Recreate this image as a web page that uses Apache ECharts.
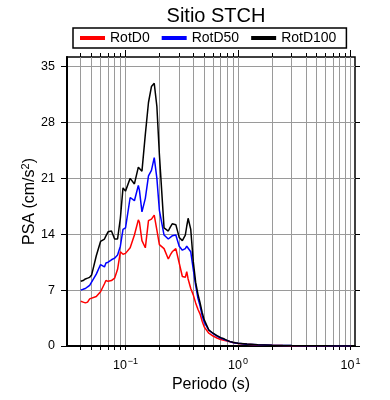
<!DOCTYPE html>
<html>
<head>
<meta charset="utf-8">
<script src="https://cdn.jsdelivr.net/npm/echarts@6/dist/echarts.min.js"></script>
<style>
  html, body { margin: 0; padding: 0; background: #fff; }
  #d_chart { width: 390px; height: 400px; }
</style>
</head>
<body>
<div id="d_chart"></div>
<script>
// periodos (s)
var periods = [0.04, 0.042, 0.044, 0.046, 0.048, 0.05, 0.055, 0.06, 0.065, 0.067, 0.07, 0.075, 0.08, 0.085, 0.09, 0.095,
  0.1, 0.11, 0.12, 0.13, 0.133, 0.14, 0.15, 0.16, 0.17, 0.18, 0.19, 0.2, 0.22, 0.24, 0.25, 0.26, 0.28, 0.3,
  0.32, 0.34, 0.35, 0.36, 0.38, 0.4, 0.42, 0.44, 0.46, 0.48, 0.5, 0.55, 0.6, 0.65, 0.7, 0.75, 0.8, 0.85, 0.9, 0.95,
  1.0, 1.2, 1.5, 2.0, 2.5, 3.0, 4.0, 5.0, 6.0, 7.5, 10.0]
// PSA (cm/s2)
var rotD0 = [5.6, 5.5, 5.4, 5.5, 5.9, 6.1, 6.2, 6.8, 7.8, 8.2, 8.1, 8.2, 8.5, 9.6, 11.8, 11.5,
  11.6, 12.3, 13.9, 15.8, 15.5, 13.2, 12.3, 15.7, 15.9, 16.4, 14.5, 12.7, 12.2, 10.9, 11.4, 11.8, 12.2, 10.4,
  8.7, 8.6, 9.3, 8.4, 7.2, 6.4, 5.4, 4.6, 4.0, 3.1, 2.4, 1.6, 1.25, 1.0, 0.82, 0.72, 0.62, 0.52, 0.43, 0.36,
  0.3, 0.21, 0.14, 0.09, 0.06, 0.045, 0.03, 0.022, 0.017, 0.013, 0.009]
var rotD50 = [7.0, 7.1, 7.2, 7.4, 7.6, 7.8, 9.0, 10.2, 9.9, 10.4, 10.5, 10.8, 11.0, 11.4, 12.5, 14.6,
  14.8, 18.6, 18.2, 20.1, 19.5, 16.8, 18.5, 21.3, 22.0, 23.6, 21.0, 17.0, 13.9, 13.4, 13.5, 13.8, 13.9, 12.5,
  12.0, 12.2, 12.5, 12.7, 11.8, 9.6, 7.6, 6.0, 5.0, 3.8, 3.0, 2.0, 1.55, 1.25, 1.0, 0.85, 0.68, 0.55, 0.45, 0.38,
  0.33, 0.23, 0.15, 0.1, 0.07, 0.05, 0.033, 0.024, 0.019, 0.014, 0.01]
var rotD100 = [8.1, 8.2, 8.4, 8.5, 8.6, 8.9, 11.3, 13.1, 13.4, 13.8, 14.3, 14.4, 13.4, 13.4, 16.0, 19.8,
  19.4, 21.0, 20.3, 22.4, 22.3, 21.9, 26.5, 30.5, 32.5, 32.9, 30.0, 24.0, 14.8, 14.4, 14.9, 15.3, 15.2, 13.6,
  13.2, 13.9, 15.0, 16.0, 14.6, 10.6, 8.0, 6.5, 5.4, 4.2, 3.3, 2.0, 1.6, 1.3, 1.05, 0.9, 0.7, 0.55, 0.47, 0.4,
  0.35, 0.24, 0.16, 0.1, 0.07, 0.05, 0.035, 0.025, 0.02, 0.015, 0.01]
var seriesNames = ['RotD0', 'RotD50', 'RotD100']
var seriesColors = ['#ff0000', '#0000ff', '#000000']
var yTicks = [0, 7, 14, 21, 28, 35]
var xMajor = [-1, 0, 1] // log10 del periodo

var xMin = Math.log10(0.0302)
var xMax = Math.log10(10.95)

// ticks menores del eje logaritmico
var xMinor = []
for (var e = -2; e <= 1; e++) {
  for (var k = 1; k <= 9; k++) {
    var v = Math.log10(k * Math.pow(10, e))
    if (v >= xMin && v <= xMax) xMinor.push(v)
  }
}

function toXY (vals) {
  return periods.map(function (p, i) { return [Math.log10(p), vals[i]] })
}

var font = 'Liberation Sans, Arial, Helvetica, sans-serif'
var chart = echarts.init(document.getElementById('d_chart'))

var xBase = {
  type: 'value',
  min: xMin,
  max: xMax,
  axisLine: { show: false, onZero: false },
  axisLabel: { show: false },
  splitLine: { show: false }
}

var option = {
  animation: false,
  textStyle: { fontFamily: font, color: '#000' },
  title: {
    text: 'Sitio STCH',
    left: 211,
    textAlign: 'center',
    top: 1,
    textStyle: { fontSize: 20, fontWeight: 'normal', color: '#000', fontFamily: font }
  },
  legend: {
    data: seriesNames,
    left: 73,
    top: 28,
    padding: [3, 10, 3, 7],
    itemGap: 12,
    itemWidth: 25,
    itemHeight: 4,
    icon: 'rect',
    borderColor: '#000',
    borderWidth: 1.5,
    textStyle: { fontSize: 14, color: '#000', fontFamily: font }
  },
  grid: {
    left: 67,
    right: 35,
    top: 57,
    bottom: 54,
    show: true,
    borderColor: '#000',
    borderWidth: 1.5
  },
  xAxis: [
    {
      type: 'value',
      min: xMin,
      max: xMax,
      name: 'Periodo (s)',
      nameLocation: 'middle',
      nameGap: 28,
      nameTextStyle: { fontSize: 16, color: '#000', fontFamily: font },
      axisLine: { show: true, onZero: false, lineStyle: { color: '#000', width: 2 } },
      axisTick: { show: true, length: 4, customValues: xMinor, lineStyle: { color: '#000', width: 1 } },
      splitLine: { show: true, lineStyle: { color: '#9a9a9a', width: 1 } },
      axisLabel: {
        customValues: xMajor,
        margin: 11,
        formatter: function (v) {
          var n = Math.round(v)
          return '{b|10}{sup|' + (n < 0 ? '\u2212' + (-n) : n) + '}'
        },
        rich: {
          b: { fontSize: 12.5, color: '#000', fontFamily: font },
          sup: { fontSize: 9, color: '#000', fontFamily: font, padding: [0, 0, 8, 1] }
        }
      }
    },
    Object.assign({}, xBase, {
      axisTick: { show: true, length: 7, customValues: xMajor, lineStyle: { color: '#000', width: 1 } }
    }),
    Object.assign({}, xBase, {
      position: 'top',
      axisTick: { show: true, length: 4, customValues: xMinor, lineStyle: { color: '#000', width: 1 } }
    }),
    Object.assign({}, xBase, {
      position: 'top',
      axisTick: { show: true, length: 7, customValues: xMajor, lineStyle: { color: '#000', width: 1 } }
    })
  ],
  yAxis: [
    {
      type: 'value',
      min: 0,
      max: 36.2,
      name: 'PSA (cm/s{sup|2})',
      nameLocation: 'middle',
      nameGap: 27,
      nameMoveOverlap: false,
      nameTextStyle: {
        fontSize: 16,
        color: '#000',
        fontFamily: font,
        rich: {
          sup: { fontSize: 11, color: '#000', fontFamily: font, padding: [0, 0, 9, 0] }
        }
      },
      axisLine: { show: true, onZero: false, lineStyle: { color: '#000', width: 2 } },
      axisTick: { show: true, length: 6, customValues: yTicks, lineStyle: { color: '#000', width: 1 } },
      splitLine: { show: true, lineStyle: { color: '#9a9a9a', width: 1 } },
      axisLabel: { customValues: yTicks, margin: 12, fontSize: 12.5, color: '#000', fontFamily: font }
    },
    {
      type: 'value',
      min: 0,
      max: 36.2,
      position: 'right',
      axisLine: { show: false, onZero: false },
      axisTick: { show: true, length: 5, customValues: yTicks, lineStyle: { color: '#000', width: 1 } },
      axisLabel: { show: false },
      splitLine: { show: false }
    }
  ],
  series: [rotD0, rotD50, rotD100].map(function (vals, i) {
    return {
      name: seriesNames[i],
      type: 'line',
      xAxisIndex: 0,
      yAxisIndex: 0,
      data: toXY(vals),
      showSymbol: false,
      color: seriesColors[i],
      lineStyle: { width: 1.5, color: seriesColors[i] },
      z: 2 + i
    }
  })
}

chart.setOption(option, true)
</script>
</body>
</html>
